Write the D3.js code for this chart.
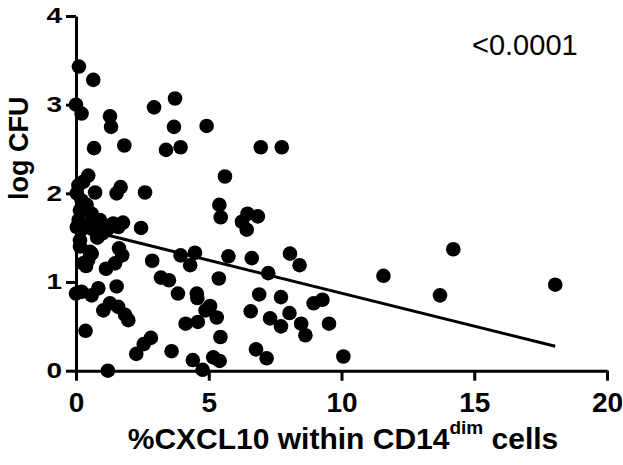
<!DOCTYPE html>
<html>
<head>
<meta charset="utf-8">
<script src="https://cdn.jsdelivr.net/npm/d3@7"></script>
<style>
  html, body { margin: 0; padding: 0; background: #fff; }
  svg { display: block; }
  text { font-family: "Liberation Sans", Arial, Helvetica, sans-serif; fill: #000; }
</style>
</head>
<body>
<svg id="chart" width="623" height="465"></svg>
<script>
// ---- data ----
const xValues = [
  0.11, 0.65, 0.00, 0.21, 1.28, 1.32, 2.94, 3.73, 3.69, 4.92,
  0.68, 1.82, 3.39, 3.94, 6.96, 7.75, 5.61,
  0.46, 0.27, 0.09, 0.72, 1.53, 1.68, 2.60, 0.03, 0.21, 0.40, 0.15, 0.59, 0.90,
  1.40, 1.59, 0.03, 0.21, 0.65, 1.20, 0.10, 0.50, 1.00, 0.80, 1.77,
  0.15, 0.15, 0.53, 0.59, 1.62, 1.74, 0.46, 0.38, 0.27, 1.13, 1.47,
  0.00, 0.21, 0.59, 0.84, 1.53, 1.03, 1.28, 1.59, 1.85, 1.97, 0.36, 1.20,
  2.45, 2.87, 3.94, 4.48, 4.30, 5.74, 6.62, 3.20, 3.50, 5.38,
  3.84, 4.55, 4.57, 5.05, 4.88, 5.30, 4.13, 4.59, 5.44,
  2.27, 2.55, 2.82, 3.60, 4.40, 4.77, 5.17, 5.41,
  5.40, 5.45, 6.25, 6.46, 6.85, 6.43, 8.06, 8.42, 7.24, 6.90, 7.72,
  6.58, 7.31, 7.72, 8.04, 8.48, 8.64, 8.95, 9.28, 9.53, 10.07, 6.78, 7.18,
  11.58, 14.21, 13.71, 18.05
];
const yValues = [
  3.43, 3.28, 3.00, 2.90, 2.87, 2.75, 2.97, 3.07, 2.75, 2.76,
  2.51, 2.54, 2.49, 2.52, 2.52, 2.52, 2.19,
  2.20, 2.13, 2.09, 2.01, 2.00, 2.07, 2.01, 2.00, 1.92, 1.87, 1.81, 1.77, 1.70,
  1.66, 1.62, 1.62, 1.59, 1.59, 1.60, 1.70, 1.65, 1.55, 1.50, 1.67,
  1.47, 1.40, 1.34, 1.32, 1.38, 1.30, 1.25, 1.18, 1.21, 1.15, 1.21,
  0.87, 0.89, 0.85, 0.93, 0.95, 0.68, 0.76, 0.72, 0.63, 0.57, 0.45, 0.00,
  1.61, 1.24, 1.30, 1.33, 1.19, 1.29, 1.27, 1.05, 1.02, 1.04,
  0.87, 0.87, 0.82, 0.73, 0.68, 0.60, 0.53, 0.55, 0.38,
  0.19, 0.30, 0.37, 0.22, 0.12, 0.01, 0.15, 0.11,
  1.87, 1.73, 1.68, 1.77, 1.74, 1.59, 1.32, 1.19, 1.10, 0.86, 0.83,
  0.67, 0.59, 0.50, 0.65, 0.53, 0.40, 0.76, 0.80, 0.53, 0.16, 0.24, 0.14,
  1.07, 1.37, 0.85, 0.97
];
const fitX = [0, 18.05];
const fitY = [1.617, 0.276];
const xTicks = [0, 5, 10, 15, 20];
const yTicks = [0, 1, 2, 3, 4];
const xLabelMain = "%CXCL10 within CD14";
const xLabelSup = "dim";
const xLabelEnd = " cells";
const yLabel = "log CFU";
const pLabel = "<0.0001";

// ---- layout ----
const svg = d3.select("#chart");
const x = d3.scaleLinear().domain([0, 20]).range([76, 607]);
const y = d3.scaleLinear().domain([0, 4]).range([370.7, 16]);
const fmt = d3.format("d");

// x axis
const gx = svg.append("g").attr("transform", `translate(0,${y(0)})`)
  .call(d3.axisBottom(x).tickValues(xTicks).tickFormat(fmt).tickSize(10).tickSizeOuter(0));
gx.select(".domain").attr("stroke", "#000").attr("stroke-width", 3);
gx.selectAll(".tick line").attr("stroke", "#000").attr("stroke-width", 3);
gx.selectAll(".tick text")
  .attr("font-size", 28).attr("font-weight", "bold")
  .attr("font-family", "'Liberation Sans', Arial, sans-serif")
  .attr("dy", "0.71em").attr("y", 21);

// y axis
const gy = svg.append("g").attr("transform", `translate(${x(0)},0)`)
  .call(d3.axisLeft(y).tickValues(yTicks).tickFormat(fmt).tickSize(10).tickSizeOuter(0).tickPadding(4));
gy.select(".domain").attr("stroke", "#000").attr("stroke-width", 3);
gy.selectAll(".tick line").attr("stroke", "#000").attr("stroke-width", 3);
gy.selectAll(".tick text")
  .attr("font-size", 28).attr("font-weight", "bold")
  .attr("font-family", "'Liberation Sans', Arial, sans-serif")
  .attr("transform", "scale(1,0.76)");

// regression line
svg.append("path")
  .datum(fitX.map((d, i) => [d, fitY[i]]))
  .attr("fill", "none").attr("stroke", "#000").attr("stroke-width", 3)
  .attr("d", d3.line().x(d => x(d[0])).y(d => y(d[1])));

// points
svg.append("g").selectAll("circle")
  .data(xValues.map((d, i) => [d, yValues[i]]))
  .join("circle")
  .attr("cx", d => x(d[0])).attr("cy", d => y(d[1]))
  .attr("r", 7.3).attr("fill", "#000");

// y label
svg.append("text")
  .attr("transform", `translate(28,${(y(0) + y(4)) / 2 - 45}) rotate(-90)`)
  .attr("text-anchor", "middle")
  .attr("font-size", 27).attr("font-weight", "bold")
  .text(yLabel);

// x label
const xl = svg.append("text")
  .attr("x", 343).attr("y", 449)
  .attr("text-anchor", "middle")
  .attr("font-size", 30).attr("font-weight", "bold");
xl.append("tspan").text(xLabelMain);
xl.append("tspan").attr("font-size", 19).attr("dy", -15).text(xLabelSup);
xl.append("tspan").attr("dy", 15).text(xLabelEnd);

// p value
svg.append("text")
  .attr("x", 472).attr("y", 55)
  .attr("font-size", 29)
  .text(pLabel);
</script>
</body>
</html>
